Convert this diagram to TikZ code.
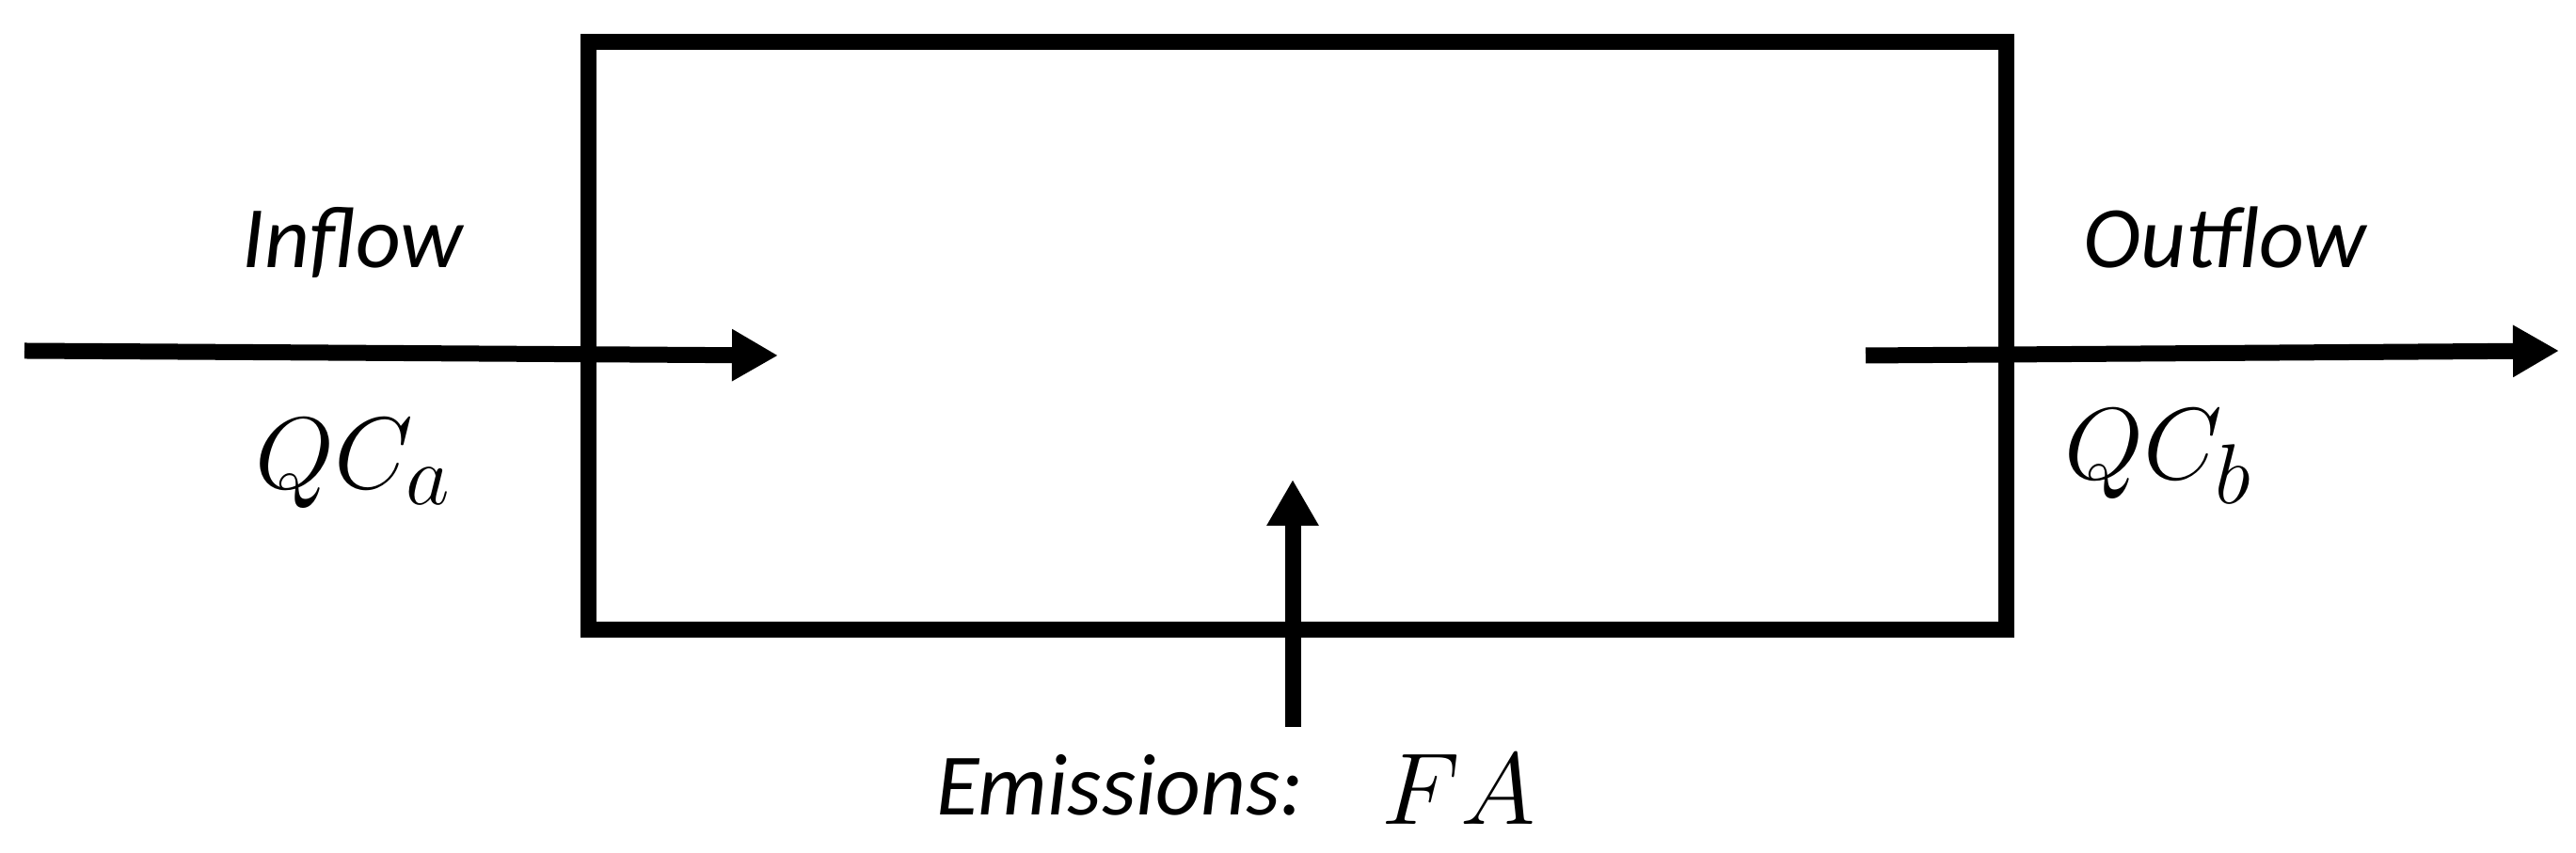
\documentclass[tikz,border=0pt]{standalone}
\usepackage{fontspec}
\setmainfont{Carlito}
\usetikzlibrary{arrows.meta}
\newcommand{\bigmath}[1]{\scalebox{1.24}{\fontsize{24.88pt}{30pt}\selectfont$#1$}}
\tikzset{
  thick line/.style={line width=0.17cm, black},
  flowarrow/.style={thick line, -{Triangle[length=0.49cm,width=0.52cm]}},
  lbl/.style={anchor=base, inner sep=0pt, font=\fontsize{26.5pt}{30pt}\selectfont\itshape},
  mathlbl/.style={anchor=base, inner sep=0pt},
  volume/.style={draw, thick line, rectangle, minimum width=15.07cm, minimum height=6.25cm, inner sep=0pt}
}
\begin{document}
\begin{tikzpicture}
\useasboundingbox (0,0) rectangle (27.38,9.07);
\node[volume] (box) at (13.785,5.495) {};
% inflow
\coordinate (inS) at (0.26,5.34);
\coordinate (inE) at (8.27,5.29);
\draw[flowarrow] (inS) -- (inE);
% outflow
\coordinate (outS) at (19.83,5.29);
\coordinate (outE) at (27.20,5.34);
\draw[flowarrow] (outS) -- (outE);
% emissions
\coordinate (emS) at (13.74,1.34);
\coordinate (emE) at (13.74,3.97);
\draw[flowarrow] (emS) -- (emE);
% labels
\node[lbl] (inflow) at (3.75,6.22) {Inflow};
\node[lbl] (outflow) at (23.65,6.22) {Outflow};
\node[mathlbl] (qca) at (3.76,3.87) {\bigmath{QC_a}};
\node[mathlbl] (qcb) at (22.94,3.97) {\bigmath{QC_b}};
\node[lbl] (emis) at (11.905,0.40) {Emissions:};
\node[mathlbl] (fa) at (15.505,0.30) {\bigmath{FA}};
\end{tikzpicture}
\end{document}
